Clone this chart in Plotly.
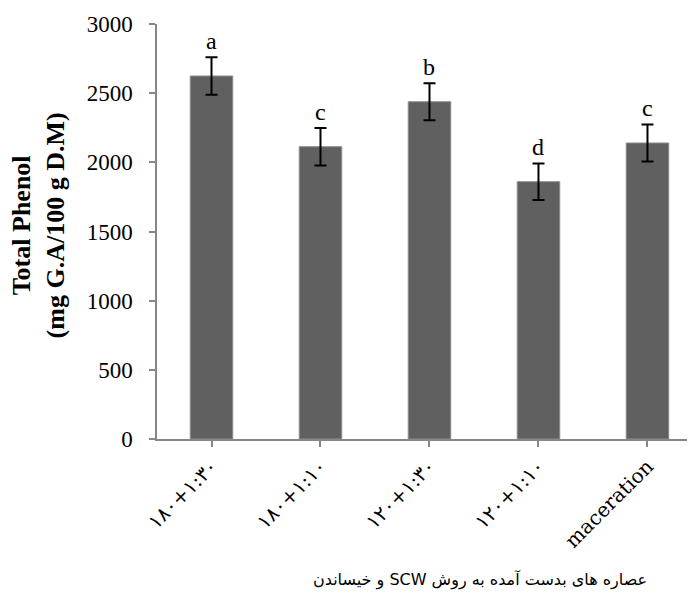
import plotly.graph_objects as go

categories = ["۱۸۰+۱:۳۰", "۱۸۰+۱:۱۰", "۱۲۰+۱:۳۰", "۱۲۰+۱:۱۰", "maceration"]
values = [2624, 2113, 2438, 1860, 2140]
errors = [135, 135, 133, 132, 134]
letters = ["a", "c", "b", "d", "c"]
y_ticks = [0, 500, 1000, 1500, 2000, 2500, 3000]
x_title = "عصاره های بدست آمده به روش SCW و خیساندن"
y_title_lines = ["Total Phenol", "(mg G.A/100 g D.M)"]

serif = "Liberation Serif, Times New Roman, DejaVu Sans, serif"
axis_grey = "#878787"

xs = list(range(len(categories)))

fig = go.Figure()
fig.add_trace(go.Bar(
    x=xs, y=values, width=0.39,
    marker=dict(color="#606060", line=dict(color="#8c8c8c", width=1)),
    error_y=dict(type="data", array=errors, visible=True, color="black",
                 thickness=2, width=6),
    showlegend=False,
))

for x, v, e, t in zip(xs, values, errors, letters):
    fig.add_annotation(x=x, y=v + e, text=t, showarrow=False,
                       xref="x", yref="y", yanchor="bottom", yshift=1,
                       font=dict(family=serif, size=24, color="black"))

# x-axis caption as a right-to-left (Persian) paragraph
fig.add_annotation(x=0.60, y=-0.34, xref="paper", yref="paper",
                   text="\u202b" + x_title + "\u202c",
                   showarrow=False, xanchor="center", yanchor="middle",
                   font=dict(family="DejaVu Sans, serif", size=16, color="black"))

fig.add_annotation(x=-0.221, y=0.515, xref="paper", yref="paper",
                   text="<b>" + "<br>".join(y_title_lines) + "</b>",
                   textangle=-90, showarrow=False, xanchor="center",
                   yanchor="middle",
                   font=dict(family=serif, size=26, color="black"))

fig.update_layout(
    width=687, height=595,
    margin=dict(l=149, r=0, t=16, b=164),
    paper_bgcolor="white", plot_bgcolor="white",
    font=dict(family=serif, color="black"),
)
fig.update_xaxes(
    range=[-0.5, 4.436], tickmode="array", tickvals=xs, ticktext=categories,
    tickangle=-45, tickson="boundaries", ticks="outside", ticklen=6,
    tickcolor=axis_grey, tickwidth=1.5,
    showline=True, linecolor=axis_grey, linewidth=1.5,
    showgrid=False, zeroline=False,
    tickfont=dict(family="DejaVu Serif, DejaVu Sans, serif", size=20,
                  color="black"),
)
fig.update_yaxes(
    range=[0, 3000], tickvals=y_ticks, ticks="outside", ticklen=6,
    tickcolor=axis_grey, tickwidth=1.5,
    showline=True, linecolor=axis_grey, linewidth=1.5,
    showgrid=False, zeroline=False,
    tickfont=dict(family=serif, size=23, color="black"),
    ticklabelstandoff=12,
)

fig.write_html("out.html")
